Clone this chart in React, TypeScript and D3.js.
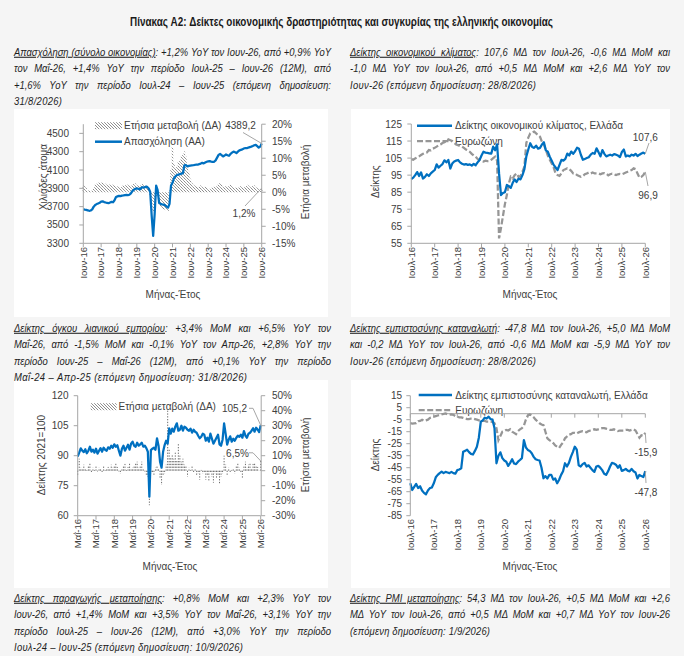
import React, { useLayoutEffect, useRef } from "react";
import * as d3 from "d3";

// ---------------- DATA ----------------
// Panel 1: Employment (thousands), monthly Jun-16 .. Jun-26
const EMP_VALUES = [
  3672, 3668, 3665, 3660, 3655, 3658, 3670, 3700, 3718, 3728, 3735, 3742,
  3755, 3758, 3750, 3745, 3740, 3738, 3745, 3752, 3748, 3770, 3805, 3812,
  3818, 3815, 3820, 3822, 3825, 3828, 3825, 3830, 3845, 3870, 3885, 3895,
  3900, 3895, 3888, 3905, 3912, 3908, 3918, 3915, 3898, 3860, 3600, 3380,
  3620, 3930, 3880, 3740, 3730, 3725, 3722, 3715, 3700, 3690, 3730, 3930,
  3960, 4010, 4030, 4045, 4050, 4055, 4060, 4065, 4150, 4155, 4140, 4145,
  4148, 4150, 4152, 4155, 4160, 4158, 4165, 4170, 4178, 4172, 4182, 4190,
  4195, 4198, 4192, 4188, 4190, 4205, 4235, 4265, 4275, 4262, 4248, 4258,
  4270, 4262, 4255, 4275, 4290, 4300, 4295, 4285, 4300, 4315, 4320, 4325,
  4335, 4340, 4338, 4345, 4350, 4355, 4362, 4370, 4375, 4360, 4345, 4355, 4389.2,
];
// Panel 1: Employment YoY change (%)
const EMP_YOY = [
  2.0, 1.8, 1.2, 0.6, 0.4, 0.3, 0.5, 1.5, 2.2, 2.5, 2.8, 3.0,
  2.8, 3.0, 2.7, 2.5, 2.2, 2.0, 2.3, 2.4, 2.1, 1.9, 1.8, 1.7,
  1.7, 1.5, 1.9, 2.0, 2.1, 2.4, 2.2, 2.0, 1.8, 2.3, 2.5, 2.6,
  2.2, 2.0, 1.7, 2.1, 2.4, 2.1, 2.0, 1.6, 0.6, -1.2, -3.0, -5.5,
  -4.5, -1.5, -1.0, -3.0, -4.2, -4.8, -5.2, -5.0, -5.3, -5.5, 0.5, 6.5,
  13.3, 8.5, 7.0, 7.5, 9.0, 9.5, 10.5, 11.0, 12.0, 10.5, 8.0, 6.0,
  4.0, 2.8, 2.2, 2.0, 1.8, 1.5, 1.6, 2.0, 1.5, 1.2, 1.6, 1.5,
  1.2, 1.0, 1.3, 1.4, 1.6, 1.2, 1.8, 2.4, 2.8, 2.2, 1.6, 1.4,
  1.8, 1.6, 1.8, 2.2, 2.0, 1.5, 1.2, 1.5, 1.4, 1.3, 1.8, 1.6,
  1.5, 1.7, 2.2, 2.0, 1.7, 1.5, 1.8, 2.0, 1.6, 1.2, 0.9, 0.9, 1.2,
];
const EMP_TICKS = ["Ιουν-16", "Ιουν-17", "Ιουν-18", "Ιουν-19", "Ιουν-20", "Ιουν-21", "Ιουν-22", "Ιουν-23", "Ιουν-24", "Ιουν-25", "Ιουν-26"];
const EMP_LEFT_TICKS = [3300, 3500, 3700, 3900, 4100, 4300, 4500];
const EMP_RIGHT_TICKS = [-15, -10, -5, 0, 5, 10, 15, 20];

// Panel 2: Economic sentiment, monthly Jul-16 .. Jul-26
const ESI_GR = [
  92.7, 93.5, 95.0, 96.8, 94.5, 96.6, 93.0, 94.0, 95.5, 94.5, 96.0, 97.0,
  98.0, 101.3, 99.4, 100.5, 101.5, 103.7, 102.5, 103.9, 98.9, 101.8, 103.0, 103.5,
  103.9, 102.5, 101.7, 101.2, 101.5, 101.0, 101.3, 100.6, 101.6, 100.8, 102.5, 103.9,
  106.5, 108.7, 108.2, 108.0, 107.8, 107.6, 111.7, 109.6, 113.1, 96.0, 83.3, 84.5,
  85.0, 89.2, 88.5, 87.5, 90.5, 92.5, 91.0, 93.0, 92.5, 95.0, 98.5, 106.0,
  110.0, 113.7, 111.5, 111.0, 112.3, 110.5, 111.0, 113.0, 114.3, 109.5, 108.7, 105.8,
  103.5, 101.0, 99.5, 98.0, 101.0, 104.0, 103.5, 104.5, 107.6, 106.5, 108.8, 107.5,
  109.0, 111.1, 110.5, 106.8, 104.0, 104.5, 105.0, 105.5, 107.0, 108.0, 107.5, 110.7,
  108.5, 106.0, 109.7, 107.5, 106.0, 106.5, 107.0, 106.5, 107.3, 107.0, 106.5, 105.6,
  108.6, 110.0, 106.0, 106.5, 106.0, 107.0, 106.5, 107.5, 106.2, 107.0, 107.7, 108.2, 107.6,
];
const ESI_EZ = [
  104.4, 104.0, 104.8, 105.5, 106.0, 106.8, 107.5, 108.0, 108.3, 109.7, 109.5, 110.5,
  111.0, 111.7, 112.5, 113.0, 113.8, 114.3, 115.0, 116.0, 115.5, 115.0, 114.0, 113.0,
  112.5, 112.0, 111.7, 111.0, 110.0, 109.5, 108.7, 107.5, 106.5, 105.8, 104.5, 103.8,
  103.3, 103.0, 103.5, 103.2, 103.3, 104.0, 105.0, 105.8, 103.5, 57.9, 64.0, 71.0,
  78.0, 83.3, 90.0, 94.0, 93.0, 95.0, 96.0, 94.0, 94.5, 97.0, 100.0, 114.0,
  117.0, 119.5, 120.0, 120.5, 119.5, 118.5, 117.5, 114.6, 113.0, 109.7, 106.5, 104.0,
  101.9, 99.5, 96.0, 95.0, 94.5, 96.0, 98.0, 98.5, 99.0, 98.5, 97.5, 96.0,
  96.0, 95.0, 94.5, 94.0, 94.5, 95.5, 96.0, 96.5, 96.0, 96.5, 96.0, 96.0,
  96.0, 95.5, 96.0, 96.2, 95.8, 94.9, 95.5, 95.8, 95.5, 95.0, 95.5, 95.7,
  95.5, 96.0, 96.5, 97.0, 97.5, 98.0, 99.0, 98.5, 96.0, 93.5, 94.0, 95.0, 96.9,
];
const ESI_TICKS = ["Ιουλ-16", "Ιουλ-17", "Ιουλ-18", "Ιουλ-19", "Ιουλ-20", "Ιουλ-21", "Ιουλ-22", "Ιουλ-23", "Ιουλ-24", "Ιουλ-25", "Ιουλ-26"];
const ESI_Y_TICKS = [55, 65, 75, 85, 95, 105, 115, 125];

// Panel 3: Retail trade volume (2021=100), monthly May-16 .. May-26
const RETAIL_VALUES = [
  89.6, 91.5, 93.7, 92.5, 91.8, 93.2, 91.2, 92.5, 94.5, 92.0, 93.0, 91.5,
  93.5, 91.0, 92.5, 93.8, 92.0, 94.0, 93.0, 92.5, 94.2, 93.5, 95.0, 94.0,
  95.7, 94.5, 95.2, 92.5, 90.0, 93.5, 95.0, 92.5, 94.0, 95.5, 93.0, 96.0,
  97.0, 95.0, 94.5, 96.5, 95.0, 95.7, 96.5, 94.5, 95.0, 93.8, 92.0, 69.5,
  92.8, 93.5, 94.0, 93.0, 98.7, 95.0, 87.0, 84.0, 92.0, 95.3, 97.5, 96.0,
  103.7, 101.0, 103.5, 102.0, 104.5, 106.2, 102.5, 103.0, 105.0, 102.5, 104.5, 104.0,
  103.0, 102.5, 103.5, 101.5, 103.0, 102.0, 101.5, 100.0, 98.7, 99.5, 101.0, 100.5,
  97.5, 99.0, 97.0, 101.0, 98.5, 96.0, 97.5, 99.0, 100.5, 95.7, 95.0, 98.0,
  106.2, 101.0, 95.5, 98.0, 99.7, 97.0, 98.5, 97.5, 99.0, 100.0, 99.5, 100.5,
  99.0, 102.3, 100.0, 99.0, 101.0, 101.5, 102.5, 103.7, 102.0, 104.0, 103.0, 101.8, 105.2,
];
const RETAIL_YOY = [
  -3.0, 8.0, 2.0, 1.0, 4.0, 1.5, 0.5, 3.0, 5.0, -1.0, 2.0, 0.5,
  3.5, -0.5, 2.0, 1.0, -1.5, 3.0, 0.5, 1.5, 2.5, 1.0, 4.0, 2.0,
  3.0, 5.0, 2.5, -0.5, -2.0, 1.0, 3.5, 4.5, 0.5, 2.5, 5.5, 1.5,
  2.0, 3.0, 5.5, 6.0, 2.0, 3.5, 6.0, 1.0, -0.5, -3.0, -4.0, -23.0,
  -2.0, -1.0, -3.0, 2.0, 3.0, 1.0, -5.0, -9.5, -3.0, -2.0, 4.0, 40.0,
  14.0, 9.0, 11.0, 8.0, 12.0, 7.0, 18.0, 10.0, 6.0, 8.0, 4.0, 3.0,
  -4.0, 2.0, 0.5, 3.0, -1.0, 1.0, -3.0, -2.0, -6.0, 0.5, -2.0, -1.0,
  -6.0, -3.0, -7.0, -1.0, -4.0, -8.0, -2.0, -5.0, -3.0, -8.5, -4.0, -2.0,
  10.0, 4.0, -3.0, 2.0, -1.0, 0.5, 1.5, -2.0, 3.0, 5.0, 2.0, -1.0,
  -5.0, 3.0, 6.0, 2.0, 4.0, 5.5, 1.0, 4.5, 5.0, 3.0, 2.5, -0.1, 6.5,
];
const RETAIL_TICKS = ["Μαΐ-16", "Μαΐ-17", "Μαΐ-18", "Μαΐ-19", "Μαΐ-20", "Μαΐ-21", "Μαΐ-22", "Μαΐ-23", "Μαΐ-24", "Μαΐ-25", "Μαΐ-26"];
const RETAIL_LEFT_TICKS = [60, 75, 90, 105, 120];
const RETAIL_RIGHT_TICKS = [-30, -20, -10, 0, 10, 20, 30, 40, 50];

// Panel 4: Consumer confidence, monthly Jul-16 .. Jul-26
const CCI_GR = [
  -58.0, -63.6, -61.0, -58.5, -62.0, -60.5, -64.0, -66.0, -67.2, -64.0, -62.0, -61.5,
  -58.0, -53.0, -51.0, -49.5, -48.3, -49.5, -48.5, -49.0, -49.5, -48.5, -49.5, -50.0,
  -47.0, -46.5, -45.5, -31.7, -31.0, -30.0, -32.0, -33.5, -34.0, -31.0, -27.5, -20.0,
  -6.7, -5.5, -3.3, -4.0, -2.5, -4.5, -5.0, -12.2, -41.3, -35.0, -32.2, -37.0,
  -39.0, -40.0, -43.5, -41.0, -38.0, -41.5, -42.0, -40.0, -38.6, -37.0, -22.0, -28.0,
  -30.2, -31.0, -33.0, -36.0, -38.0, -38.6, -39.0, -45.0, -53.8, -52.0, -54.0, -51.0,
  -51.0, -55.0, -54.0, -58.0, -55.0, -51.0, -48.0, -41.3, -44.0, -41.0, -36.0, -32.0,
  -27.5, -30.0, -43.0, -44.0, -42.0, -41.0, -44.0, -43.0, -45.0, -47.0, -48.5, -44.0,
  -43.5, -45.0, -47.0, -50.0, -51.0, -48.0, -44.0, -41.0, -41.5, -42.5, -45.0, -43.0,
  -47.6, -47.0, -46.0, -47.5, -48.0, -46.0, -48.0, -49.0, -54.0, -51.0, -52.0, -52.8, -47.8,
];
const CCI_EZ = [
  -7.9, -8.2, -8.0, -7.8, -6.3, -6.0, -5.0, -6.0, -5.5, -5.0, -3.5, -3.0,
  -2.5, -2.0, -1.5, -1.0, -0.5, -0.2, 0.2, -0.5, -0.8, -0.5, -1.0, -2.0,
  -2.5, -3.0, -3.0, -3.5, -4.0, -4.5, -4.5, -4.0, -4.0, -4.5, -5.0, -5.5,
  -5.5, -6.0, -6.0, -6.5, -6.5, -6.5, -7.0, -8.0, -12.0, -22.0, -18.5, -15.0,
  -14.5, -13.5, -14.0, -13.0, -15.0, -16.0, -17.0, -14.5, -13.0, -12.0, -10.0, -5.0,
  -1.5, -0.5, -1.5, -3.0, -5.0, -6.5, -8.0, -9.0, -9.5, -15.0, -20.5, -22.0,
  -23.0, -24.5, -26.5, -27.5, -28.5, -26.0, -24.0, -20.5, -19.0, -17.5, -17.0, -16.0,
  -16.0, -16.5, -15.5, -15.0, -14.5, -15.0, -15.5, -14.5, -14.0, -13.5, -13.0, -13.5,
  -13.0, -12.5, -12.0, -12.0, -12.5, -13.0, -13.5, -13.5, -13.0, -14.0, -14.5, -14.0,
  -14.0, -14.0, -13.5, -13.5, -14.0, -13.5, -13.0, -14.0, -17.0, -20.0, -18.0, -18.5, -15.9,
];
const CCI_TICKS = ["Ιουλ-16", "Ιουλ-17", "Ιουλ-18", "Ιουλ-19", "Ιουλ-20", "Ιουλ-21", "Ιουλ-22", "Ιουλ-23", "Ιουλ-24", "Ιουλ-25", "Ιουλ-26"];
const CCI_Y_TICKS = [-85, -75, -65, -55, -45, -35, -25, -15, -5, 5, 15];

// Text blocks
const TITLE = "Πίνακας A2: Δείκτες οικονομικής δραστηριότητας και συγκυρίας της ελληνικής οικονομίας";
const TEXT_EMP = [
  { u: "Απασχόληση (σύνολο οικονομίας)", t: ": +1,2% YoY τον Ιουν-26, από +0,9% YoY", j: true },
  { u: "", t: "τον Μαΐ-26, +1,4% YoY την περίοδο Ιουλ-25 – Ιουν-26 (12M), από", j: true },
  { u: "", t: "+1,6% YoY την περίοδο Ιουλ-24 – Ιουν-25 (επόμενη δημοσίευση:", j: true },
  { u: "", t: "31/8/2026)", j: false, w: 48 },
];
const TEXT_ESI = [
  { u: "Δείκτης οικονομικού κλίματος", t: ": 107,6 ΜΔ τον Ιουλ-26, -0,6 ΜΔ MoM και", j: true },
  { u: "", t: "-1,0 ΜΔ YoY τον Ιουλ-26, από +0,5 ΜΔ MoM και +2,6 ΜΔ YoY τον", j: true },
  { u: "", t: "Ιουν-26 (επόμενη δημοσίευση: 28/8/2026)", j: false, w: 186 },
];
const TEXT_RETAIL = [
  { u: "Δείκτης όγκου λιανικού εμπορίου", t: ": +3,4% MoM και +6,5% YoY τον", j: true },
  { u: "", t: "Μαΐ-26, από -1,5% MoM και -0,1% YoY τον Απρ-26, +2,8% YoY την", j: true },
  { u: "", t: "περίοδο Ιουν-25 – Μαΐ-26 (12M), από +0,1% YoY την περίοδο", j: true },
  { u: "", t: "Μαΐ-24 – Απρ-25 (επόμενη δημοσίευση: 31/8/2026)", j: false, w: 233 },
];
const TEXT_CCI = [
  { u: "Δείκτης εμπιστοσύνης καταναλωτή", t: ": -47,8 ΜΔ τον Ιουλ-26, +5,0 ΜΔ MoM", j: true },
  { u: "", t: "και -0,2 ΜΔ YoY τον Ιουλ-26, από -0,6 ΜΔ MoM και -5,9 ΜΔ YoY τον", j: true },
  { u: "", t: "Ιουν-26 (επόμενη δημοσίευση: 28/8/2026)", j: false, w: 186 },
];
const TEXT_IP = [
  { u: "Δείκτης παραγωγής μεταποίησης", t: ": +0,8% MoM και +2,3% YoY τον", j: true },
  { u: "", t: "Ιουν-26, από +1,4% MoM και +3,5% YoY τον Μαΐ-26, +3,1% YoY την", j: true },
  { u: "", t: "περίοδο Ιουλ-25 – Ιουν-26 (12M), από +3,0% YoY την περίοδο", j: true },
  { u: "", t: "Ιουλ-24 – Ιουν-25 (επόμενη δημοσίευση: 10/9/2026)", j: false, w: 229 },
];
const TEXT_PMI = [
  { u: "Δείκτης PMI μεταποίησης", t: ": 54,3 ΜΔ τον Ιουλ-26, +0,5 ΜΔ MoM και +2,6", j: true },
  { u: "", t: "ΜΔ YoY τον Ιουλ-26, από +0,5 ΜΔ MoM και +0,7 ΜΔ YoY τον Ιουν-26", j: true },
  { u: "", t: "(επόμενη δημοσίευση: 1/9/2026)", j: false, w: 140 },
];

// ---------------- STYLE ----------------
const FONT = "'Liberation Sans', Arial, sans-serif";
const TXT = "#404040";
const BODY = "#1e1e1e";
const AX = "#a6a6a6";
const BLUE = "#0070C0";
const GREY = "#969696";
const PAGE_BG = "#f5f5f5";
const SX = 0.9;

const fmtDec = (v: number) => v.toFixed(1).replace(".", ",");

function Paragraph({ x, width, y0, lines }: any) {
  const ref = useRef<SVGGElement>(null);
  useLayoutEffect(() => {
    const g = ref.current;
    if (!g) return;
    d3.select(g)
      .selectAll<SVGTextElement, unknown>("text")
      .each(function () {
        const el = this as SVGTextElement;
        const j = el.getAttribute("data-j") === "1";
        const target = parseFloat(el.getAttribute("data-w") || "0") / SX;
        el.style.wordSpacing = "0px";
        el.removeAttribute("textLength");
        el.removeAttribute("lengthAdjust");
        const nat = el.getComputedTextLength();
        const nSp = (el.textContent || "").split(" ").length - 1;
        if (j && nat < target && nSp > 0) {
          el.style.wordSpacing = `${(target - nat) / nSp}px`;
        } else if (target > 0) {
          el.setAttribute("textLength", String(target));
          el.setAttribute("lengthAdjust", j || nat > target ? "spacingAndGlyphs" : "spacing");
        }
      });
  }, []);
  return (
    <g ref={ref} transform={`translate(${x},0) scale(${SX},1)`}>
      {lines.map((l: any, i: number) => (
        <text
          key={i}
          x={0}
          y={y0 + i * 16.5 + 3.7}
          fontSize={10.5}
          fontStyle="italic"
          fill={BODY}
          data-j={l.j ? "1" : "0"}
          data-w={l.j ? width : l.w}
        >
          {l.u ? <tspan style={{ textDecoration: "underline" }}>{l.u}</tspan> : null}
          {l.t}
        </text>
      ))}
    </g>
  );
}

function LeftAxis({ x, scale, ticks, fmt, labelX }: any) {
  const [a, b] = scale.range();
  return (
    <g>
      <line x1={x} x2={x} y1={a} y2={b} stroke={AX} strokeWidth={1} />
      {ticks.map((t: number) => (
        <g key={t}>
          <line x1={x - 4} x2={x} y1={scale(t)} y2={scale(t)} stroke={AX} />
          <text x={labelX} y={scale(t)} dy="0.35em" textAnchor="end" fontSize={10} fill={TXT}>
            {fmt(t)}
          </text>
        </g>
      ))}
    </g>
  );
}

function RightAxis({ x, scale, ticks, fmt, labelX }: any) {
  const [a, b] = scale.range();
  return (
    <g>
      <line x1={x} x2={x} y1={a} y2={b} stroke={AX} strokeWidth={1} />
      {ticks.map((t: number) => (
        <g key={t}>
          <line x1={x} x2={x + 4} y1={scale(t)} y2={scale(t)} stroke={AX} />
          <text x={labelX} y={scale(t)} dy="0.35em" textAnchor="start" fontSize={10} fill={TXT}>
            {fmt(t)}
          </text>
        </g>
      ))}
    </g>
  );
}

function BottomAxis({ xs, lineY, labels, labelY }: any) {
  const [a, b] = xs.range();
  return (
    <g>
      <line x1={a} x2={b} y1={lineY} y2={lineY} stroke={AX} />
      {labels.map((lab: string, k: number) => {
        const xx = xs(k * 12);
        return (
          <g key={lab}>
            <line x1={xx} x2={xx} y1={lineY} y2={lineY + 4} stroke={AX} />
            <text
              transform={`translate(${xx},${labelY}) rotate(-90)`}
              dy="0.35em"
              textAnchor="end"
              fontSize={9.5}
              fill={TXT}
            >
              {lab}
            </text>
          </g>
        );
      })}
    </g>
  );
}

function VTitle({ x, y, text }: any) {
  return (
    <text transform={`translate(${x},${y}) rotate(-90)`} textAnchor="middle" dy="0.35em" fontSize={10} fill={TXT}>
      {text}
    </text>
  );
}

function HTitle({ x, y, text }: any) {
  return (
    <text x={x} y={y} textAnchor="middle" dy="0.35em" fontSize={10} fill={TXT}>
      {text}
    </text>
  );
}

function lineD(xs: any, ys: any, vals: number[]) {
  return d3
    .line<number>()
    .x((_, i) => xs(i))
    .y((d) => ys(d))(vals) as string;
}

function Bars({ xs, ys, vals, bw }: any) {
  const z = ys(0);
  return (
    <g>
      {vals.map((v: number, i: number) => {
        const y = ys(v);
        return (
          <rect
            key={i}
            x={xs(i) - bw / 2}
            y={Math.min(y, z)}
            width={bw}
            height={Math.max(0.5, Math.abs(y - z))}
            fill="url(#hatch)"
          />
        );
      })}
    </g>
  );
}

function DottedBars({ xs, ys, vals }: any) {
  const z = ys(0);
  return (
    <g>
      {vals.map((v: number, i: number) => (
        <line
          key={i}
          x1={xs(i)}
          x2={xs(i)}
          y1={z}
          y2={ys(v)}
          stroke="#5a5a5a"
          strokeWidth={0.9}
          strokeDasharray="1.3,1.5"
        />
      ))}
    </g>
  );
}

function EmploymentChart() {
  const xs = d3.scaleLinear().domain([0, EMP_VALUES.length - 1]).range([83.3, 261.7]);
  const yl = d3.scaleLinear().domain([3300, 4600]).range([243.3, 124.2]);
  const yr = d3.scaleLinear().domain([-15, 20]).range([243.3, 124.2]);
  const n = EMP_VALUES.length - 1;
  const lastV = EMP_VALUES[n];
  const lastB = EMP_YOY[n];
  return (
    <g>
      <Bars xs={xs} ys={yr} vals={EMP_YOY} bw={1.5} />
      <rect x={95} y={122.2} width={27} height={7} fill="url(#hatch)" />
      <text x={124} y={125.7} dy="0.35em" fontSize={10} fill={TXT}>Ετήσια μεταβολή (ΔΑ)</text>
      <line x1={95} x2={122} y1={141.7} y2={141.7} stroke={BLUE} strokeWidth={2.5} />
      <text x={124} y={141.7} dy="0.35em" fontSize={10} fill={TXT}>Απασχόληση (ΑΑ)</text>
      <path d={lineD(xs, yl, EMP_VALUES)} fill="none" stroke={BLUE} strokeWidth={2.25} strokeLinejoin="round" />
      <LeftAxis x={83.3} scale={yl} ticks={EMP_LEFT_TICKS} fmt={(t: number) => String(t)} labelX={69} />
      <RightAxis x={261.7} scale={yr} ticks={EMP_RIGHT_TICKS} fmt={(t: number) => `${t}%`} labelX={272} />
      <BottomAxis xs={xs} lineY={243.3} labels={EMP_TICKS} labelY={247} />
      <VTitle x={43} y={177} text="Χιλιάδες άτομα" />
      <VTitle x={305} y={182} text="Ετήσια μεταβολή" />
      <HTitle x={173} y={294} text="Μήνας-Έτος" />
      <line x1={243} y1={132.5} x2={xs(n)} y2={yl(lastV)} stroke={AX} />
      <text x={240.5} y={125.7} dy="0.35em" textAnchor="middle" fontSize={10} fill={TXT}>{fmtDec(lastV)}</text>
      <line x1={245} y1={206} x2={xs(n)} y2={yr(lastB)} stroke={AX} />
      <text x={244} y={213.3} dy="0.35em" textAnchor="middle" fontSize={10} fill={TXT}>{fmtDec(lastB)}%</text>
    </g>
  );
}

function ESIChart() {
  const xs = d3.scaleLinear().domain([0, ESI_GR.length - 1]).range([411.3, 645.3]);
  const ys = d3.scaleLinear().domain([55, 125]).range([243.3, 124]);
  const n = ESI_GR.length - 1;
  return (
    <g>
      <line x1={417} x2={452} y1={125.7} y2={125.7} stroke={BLUE} strokeWidth={2.5} />
      <text x={455} y={125.7} dy="0.35em" fontSize={10} fill={TXT}>Δείκτης οικονομικού κλίματος, Ελλάδα</text>
      <line x1={417} x2={452} y1={141} y2={141} stroke={GREY} strokeWidth={2.25} strokeDasharray="6,2.5" />
      <text x={455} y={141} dy="0.35em" fontSize={10} fill={TXT}>Ευρωζώνη</text>
      <path d={lineD(xs, ys, ESI_EZ)} fill="none" stroke={GREY} strokeWidth={2.25} strokeDasharray="6,2.5" />
      <path d={lineD(xs, ys, ESI_GR)} fill="none" stroke={BLUE} strokeWidth={2.25} strokeLinejoin="round" />
      <LeftAxis x={411.3} scale={ys} ticks={ESI_Y_TICKS} fmt={(t: number) => String(t)} labelX={402} />
      <BottomAxis xs={xs} lineY={243.3} labels={ESI_TICKS} labelY={247} />
      <VTitle x={375.3} y={181.7} text="Δείκτης" />
      <HTitle x={530} y={294} text="Μήνας-Έτος" />
      <line x1={649} y1={143} x2={xs(n)} y2={ys(ESI_GR[n])} stroke={AX} />
      <text x={645.3} y={137.3} dy="0.35em" textAnchor="middle" fontSize={10} fill={TXT}>{fmtDec(ESI_GR[n])}</text>
      <line x1={xs(n)} y1={ys(ESI_EZ[n])} x2={648} y2={186} stroke={AX} />
      <text x={648} y={195} dy="0.35em" textAnchor="middle" fontSize={10} fill={TXT}>{fmtDec(ESI_EZ[n])}</text>
    </g>
  );
}

function RetailChart() {
  const xs = d3.scaleLinear().domain([0, RETAIL_VALUES.length - 1]).range([77.7, 260.7]);
  const yl = d3.scaleLinear().domain([60, 120]).range([515.7, 395.7]);
  const yr = d3.scaleLinear().domain([-30, 50]).range([515.7, 395.7]);
  const n = RETAIL_VALUES.length - 1;
  return (
    <g>
      <DottedBars xs={xs} ys={yr} vals={RETAIL_YOY} />
      <rect x={90.7} y={403.2} width={26} height={7} fill="url(#hatch)" />
      <text x={118.5} y={406.7} dy="0.35em" fontSize={10} fill={TXT}>Ετήσια μεταβολή (ΔΑ)</text>
      <path d={lineD(xs, yl, RETAIL_VALUES)} fill="none" stroke={BLUE} strokeWidth={2.25} strokeLinejoin="round" />
      <LeftAxis x={77.7} scale={yl} ticks={RETAIL_LEFT_TICKS} fmt={(t: number) => String(t)} labelX={68.5} />
      <RightAxis x={261.2} scale={yr} ticks={RETAIL_RIGHT_TICKS} fmt={(t: number) => `${t}%`} labelX={272} />
      <BottomAxis xs={xs} lineY={515.7} labels={RETAIL_TICKS} labelY={519} />
      <VTitle x={41.7} y={455} text="Δείκτης 2021=100" />
      <VTitle x={305} y={455} text="Ετήσια μεταβολή" />
      <HTitle x={170} y={566.7} text="Μήνας-Έτος" />
      <polyline points={`249,408.3 253,408.3 ${xs(n)},${yl(RETAIL_VALUES[n])}`} fill="none" stroke={AX} />
      <text x={234.5} y={408.3} dy="0.35em" textAnchor="middle" fontSize={10} fill={TXT}>{fmtDec(RETAIL_VALUES[n])}</text>
      <polyline points={`249,452.8 253,452.8 ${xs(n)},${yr(RETAIL_YOY[n])}`} fill="none" stroke={AX} />
      <text x={237.5} y={453.3} dy="0.35em" textAnchor="middle" fontSize={10} fill={TXT}>{fmtDec(RETAIL_YOY[n])}%</text>
    </g>
  );
}

function CCIChart() {
  const xs = d3.scaleLinear().domain([0, CCI_GR.length - 1]).range([410.3, 645.3]);
  const ys = d3.scaleLinear().domain([-85, 15]).range([515.7, 395.7]);
  const n = CCI_GR.length - 1;
  const z = ys(0);
  return (
    <g>
      <line x1={418.7} x2={452} y1={395} y2={395} stroke={BLUE} strokeWidth={2.5} />
      <text x={455.3} y={395} dy="0.35em" fontSize={10} fill={TXT}>Δείκτης εμπιστοσύνης καταναλωτή, Ελλάδα</text>
      <line x1={418.7} x2={452} y1={410} y2={410} stroke={GREY} strokeWidth={2.25} strokeDasharray="6,2.5" />
      <text x={455.3} y={410} dy="0.35em" fontSize={10} fill={TXT}>Ευρωζώνη</text>
      <line x1={xs.range()[0]} x2={xs.range()[1]} y1={z} y2={z} stroke={AX} />
      {CCI_TICKS.map((lab, k) => (
        <g key={lab}>
          <line x1={xs(k * 12)} x2={xs(k * 12)} y1={z} y2={z + 4} stroke={AX} />
          <text
            transform={`translate(${xs(k * 12)},519) rotate(-90)`}
            dy="0.35em"
            textAnchor="end"
            fontSize={9.5}
            fill={TXT}
          >
            {lab}
          </text>
        </g>
      ))}
      <path d={lineD(xs, ys, CCI_EZ)} fill="none" stroke={GREY} strokeWidth={2.25} strokeDasharray="6,2.5" />
      <path d={lineD(xs, ys, CCI_GR)} fill="none" stroke={BLUE} strokeWidth={2.25} strokeLinejoin="round" />
      <LeftAxis x={410.3} scale={ys} ticks={CCI_Y_TICKS} fmt={(t: number) => String(t)} labelX={402} />
      <VTitle x={375.3} y={455} text="Δείκτης" />
      <HTitle x={530} y={566.7} text="Μήνας-Έτος" />
      <line x1={xs(n)} y1={ys(CCI_EZ[n])} x2={646} y2={443} stroke={AX} />
      <text x={646} y={452.3} dy="0.35em" textAnchor="middle" fontSize={10} fill={TXT}>{fmtDec(CCI_EZ[n])}</text>
      <line x1={xs(n)} y1={ys(CCI_GR[n])} x2={646} y2={483} stroke={AX} />
      <text x={646} y={492.3} dy="0.35em" textAnchor="middle" fontSize={10} fill={TXT}>{fmtDec(CCI_GR[n])}</text>
    </g>
  );
}

export default function App() {
  return (
    <svg
      width={684}
      height={656}
      style={{ position: "absolute", left: 0, top: 0, display: "block" }}
      fontFamily={FONT}
    >
      <defs>
        <pattern id="hatch" patternUnits="userSpaceOnUse" width={3} height={3}>
          <rect width={3} height={3} fill="white" />
          <path d="M-1,2 L1,4 M0,0 L3,3 M2,-1 L4,1" stroke="#7a7a7a" strokeWidth={0.85} />
        </pattern>
      </defs>
      <rect x={0} y={0} width={684} height={656} fill={PAGE_BG} />
      <rect x={14} y={109} width={314} height={208} fill="white" />
      <rect x={351} y={109} width={319} height={208} fill="white" />
      <rect x={14} y={380} width={314} height={208} fill="white" />
      <rect x={351} y={380} width={319} height={208} fill="white" />

      <text
        x={341.5}
        y={22}
        dy="0.35em"
        textAnchor="middle"
        fontSize={12}
        fontWeight="bold"
        fill="#1a1a1a"
        textLength={423}
        lengthAdjust="spacingAndGlyphs"
      >
        {TITLE}
      </text>

      <Paragraph x={14} width={317} y0={52} lines={TEXT_EMP} />
      <Paragraph x={350} width={320} y0={52} lines={TEXT_ESI} />
      <Paragraph x={14} width={317} y0={328} lines={TEXT_RETAIL} />
      <Paragraph x={350} width={320} y0={328} lines={TEXT_CCI} />
      <Paragraph x={14} width={317} y0={598} lines={TEXT_IP} />
      <Paragraph x={350} width={320} y0={598} lines={TEXT_PMI} />

      <EmploymentChart />
      <ESIChart />
      <RetailChart />
      <CCIChart />
    </svg>
  );
}
